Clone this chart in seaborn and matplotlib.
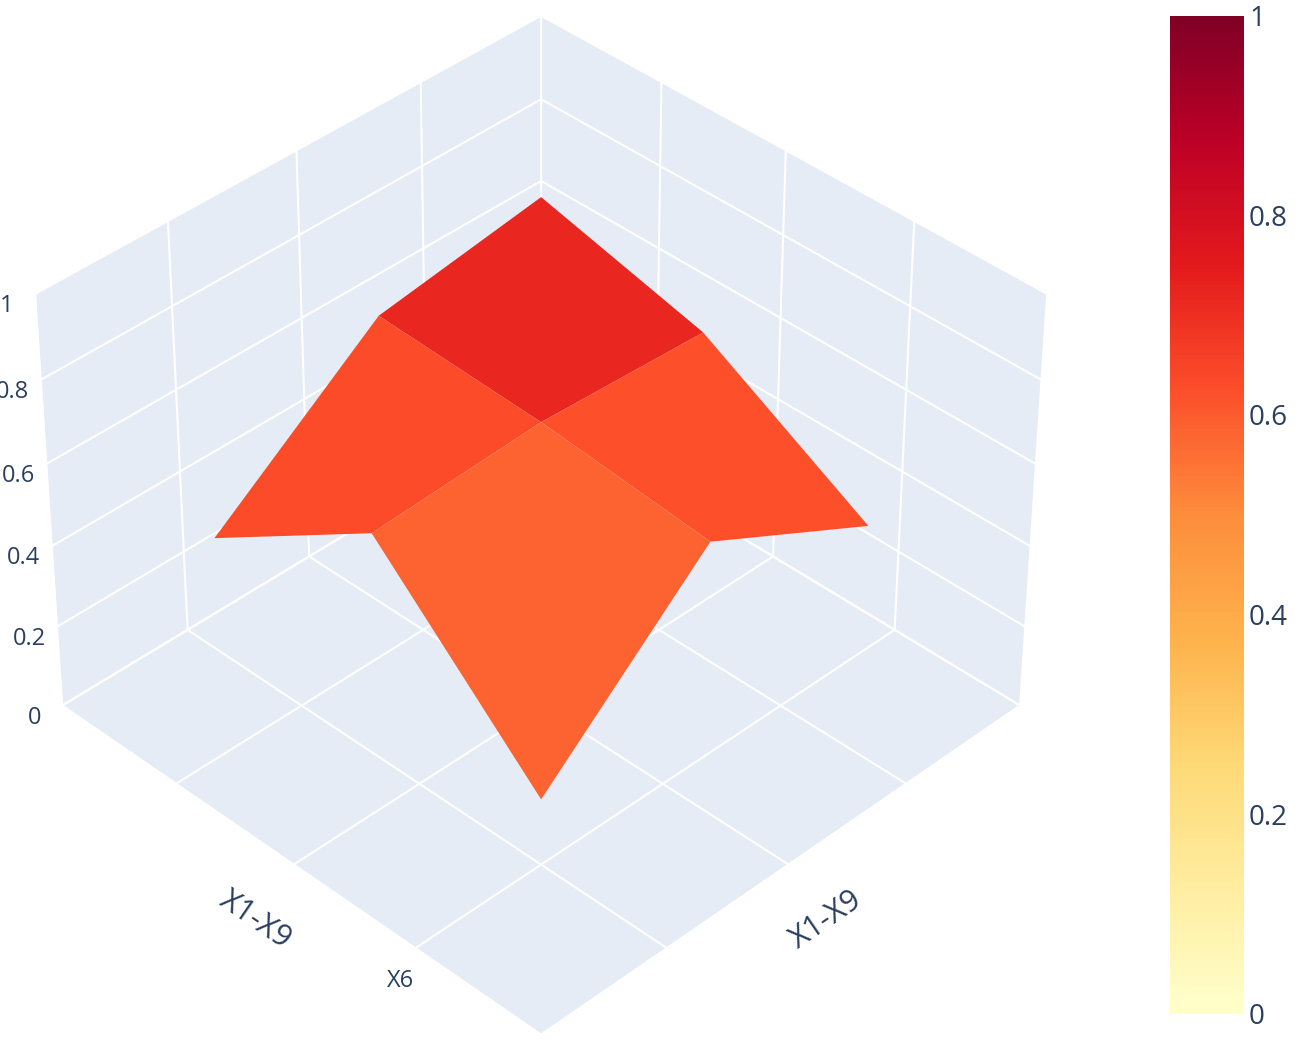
import numpy as np
import matplotlib.pyplot as plt
import seaborn as sns
from matplotlib import cm, colors

sns.set_theme(style="white")
plt.rcParams['font.family'] = ['Open Sans', 'DejaVu Sans']

# grid of feature positions and scores (estimated)
x_pos = [0, 1, 2]
y_pos = [0, 1, 2]
scores = [[0.30, 0.66, 0.45],
          [0.68, 0.70, 0.68],
          [0.42, 0.72, 0.78]]
y_ticks = ["", "X6", "", "", ""]
z_ticks = [0, 0.2, 0.4, 0.6, 0.8, 1]

X, Y = np.meshgrid(x_pos, y_pos)
Z = np.array(scores)

fig = plt.figure(figsize=(13, 10.4), dpi=100)
ax = fig.add_axes([-0.02, -0.02, 0.85, 1.04], projection='3d')
norm = colors.Normalize(0, 1)
ax.plot_surface(X, Y, Z, cmap='YlOrRd', norm=norm, rstride=1, cstride=1,
                linewidth=0, antialiased=True, shade=False)

pane = (0.898, 0.925, 0.965, 1.0)
for axis in (ax.xaxis, ax.yaxis, ax.zaxis):
    axis.set_pane_color(pane)
    axis._axinfo['grid']['color'] = 'white'
    axis._axinfo['grid']['linewidth'] = 1.5
    axis._axinfo['tick']['inward_factor'] = 0
    axis._axinfo['tick']['outward_factor'] = 0
    axis.line.set_color('white')

grid_pos = [-0.5, 0.25, 1.0, 1.75, 2.5]
ax.set_xlim(-0.5, 2.5)
ax.set_ylim(-0.5, 2.5)
ax.set_zlim(0, 1)
ax.set_xticks(grid_pos)
ax.set_xticklabels([""] * 5)
ax.set_yticks(grid_pos)
ax.set_yticklabels(y_ticks)
ax.set_zticks(z_ticks)
ax.set_zticklabels([f"{t:g}" for t in z_ticks])
ax.tick_params(labelsize=17, colors='#2a3f5f')
ax.set_xlabel("X1-X9", fontsize=22, color='#2a3f5f', labelpad=10)
ax.set_ylabel("X1-X9", fontsize=22, color='#2a3f5f', labelpad=10)
ax.set_zlabel("Score", fontsize=22, color='#2a3f5f', labelpad=15)
ax.view_init(elev=38, azim=-135)

cax = fig.add_axes([0.90, 0.025, 0.057, 0.96])
cb = fig.colorbar(cm.ScalarMappable(norm=norm, cmap='YlOrRd'), cax=cax)
cb.outline.set_visible(False)
cb.set_ticks(z_ticks)
cb.set_ticklabels([f"{t:g}" for t in z_ticks])
cb.ax.tick_params(labelsize=20, colors='#2a3f5f', length=0)

fig.savefig('out.png', dpi=100)
